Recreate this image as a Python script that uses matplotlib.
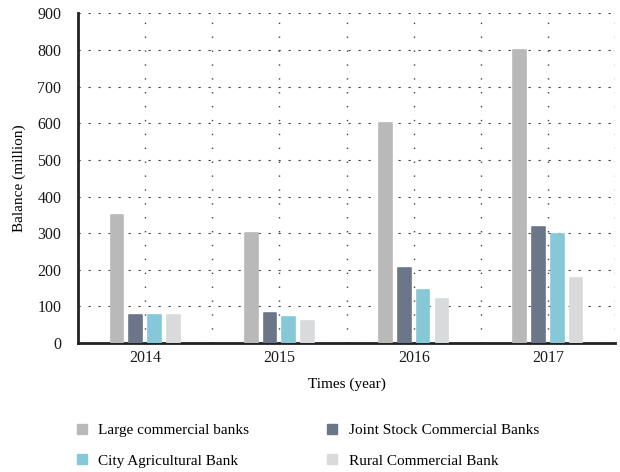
import matplotlib.pyplot as plt
import numpy as np
from matplotlib.lines import Line2D

# data
years = ['2014', '2015', '2016', '2017']
large = [350, 300, 600, 800]
joint = [77, 82, 206, 318]
city = [77, 72, 146, 297]
rural = [77, 61, 121, 177]

names = ['Large commercial banks', 'Joint Stock Commercial Banks',
         'City Agricultural Bank', 'Rural Commercial Bank']
colors = ['#b9b9b9', '#6b7789', '#86c8d8', '#d8dadc']

plt.rcParams['font.family'] = 'Liberation Serif'

fig = plt.figure(figsize=(6.2, 4.72), dpi=100)
ax = fig.add_axes([0.126, 0.273, 0.866, 0.699])

x = np.arange(len(years))
step = 0.14
w = 0.095
for i, vals in enumerate([large, joint, city, rural]):
    ax.bar(x + (i - 1.5) * step, vals, w, color=colors[i], edgecolor=colors[i],
           linewidth=1.2, joinstyle='round', zorder=3)

ax.set_xlim(-0.5, 3.5)
ax.set_ylim(0, 900)
ax.set_yticks(range(0, 901, 100))
# grid every half category, labels only on the categories
gx = np.arange(-0.5, 3.6, 0.5)
ax.set_xticks(gx)
ax.set_xticklabels([years[int(v)] if v == int(v) and 0 <= v <= 3 else '' for v in gx])
ax.tick_params(length=0, labelsize=11.5, colors='#1a1a1a')
ax.tick_params(axis='y', pad=12)
ax.tick_params(axis='x', pad=5)
ax.yaxis.grid(True, linestyle=(0, (2, 7)), color='#444444', linewidth=0.8)
ax.xaxis.grid(True, linestyle=(0, (1, 9)), color='#444444', linewidth=1)
for s in ['top', 'right']:
    ax.spines[s].set_visible(False)
ax.spines['left'].set_linewidth(2)
ax.spines['bottom'].set_linewidth(2)
ax.spines['left'].set_color('#222222')
ax.spines['bottom'].set_color('#222222')
ax.set_ylabel('Balance (million)', fontsize=11, labelpad=8)
ax.set_xlabel('Times (year)', fontsize=11, labelpad=8)

order = [0, 2, 1, 3]
handles = [Line2D([], [], marker='s', linestyle='', markersize=7, color=colors[k]) for k in order]
fig.legend(handles, [names[k] for k in order], ncol=2, loc='lower left',
           bbox_to_anchor=(0.097, -0.02), frameon=False, fontsize=11,
           handlelength=1.0, columnspacing=4.9, handletextpad=0.6, labelspacing=1.1)

fig.savefig('out.png', dpi=100)
